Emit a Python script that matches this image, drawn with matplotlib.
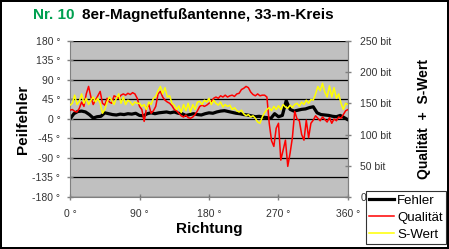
import matplotlib.pyplot as plt
import numpy as np

plt.rcParams['font.family'] = ['Liberation Sans', 'DejaVu Sans']

# Richtung in Grad
richtung_fehler = np.arange(0, 361, 5)
fehler = [0, 12, 17, 18, 16, 10, 2, 5, 6, 14, 12, 10, 9, 11, 10, 12, 11, 13, 8,
          7, 12, 14, 12, 14, 15, 16, 14, 16, 13, 12, 8, 10, 12, 10, 9, 12, 14,
          13, 16, 18, 19, 17, 15, 13, 12, 10, 9, 7, 5, 6, 4, 3, 1, 12, 5, 8, 42,
          22, 18, 20, 22, 23, 26, 28, 14, 10, 9, 8, 6, 5, 8, 3, -2]

richtung_q = np.arange(0, 361, 3)
qualitaet = [139, 140, 137, 136, 142, 152, 145, 165, 177, 160, 148, 155, 162, 169,
             150, 147, 158, 152, 150, 162, 160, 158, 163, 165, 163, 166, 164, 167,
             165, 158, 145, 140, 121, 142, 148, 134, 138, 145, 165, 169, 160, 155,
             152, 150, 146, 140, 138, 134, 130, 128, 131, 127, 126, 128, 132, 138,
             145, 147, 145, 147, 150, 153, 158, 160, 158, 162, 160, 163, 160, 162,
             163, 161, 165, 166, 172, 174, 177, 175, 168, 164, 162, 165, 162, 163,
             163, 160, 118, 90, 81, 110, 118, 59, 75, 91, 49, 70, 95, 137, 125, 122,
             100, 91, 123, 95, 118, 123, 130, 126, 122, 128, 124, 120, 127, 118,
             125, 122, 128, 126, 132, 138, 140]
s_wert = [147, 150, 163, 148, 153, 165, 150, 158, 148, 155, 160, 152, 158, 150,
          134, 140, 152, 160, 155, 148, 158, 165, 150, 160, 148, 155, 152, 147,
          152, 150, 150, 145, 148, 140, 152, 148, 158, 161, 170, 177, 165, 175,
          160, 162, 150, 147, 140, 146, 135, 148, 138, 150, 136, 148, 140, 152,
          153, 148, 155, 152, 158, 148, 155, 150, 147, 152, 144, 148, 145, 147,
          140, 143, 138, 136, 139, 133, 130, 132, 128, 130, 126, 120, 118, 128,
          135, 140, 143, 138, 145, 140, 146, 140, 148, 144, 142, 147, 143, 148,
          150, 145, 152, 148, 155, 150, 156, 155, 165, 177, 170, 182, 168, 160,
          178, 160, 175, 158, 165, 150, 140, 150, 148]

x_ticks = [0, 90, 180, 270, 360]
x_labels = ['0 °', '90 °', '180 °', '270 °', '360 °']
y_ticks = [-180, -135, -90, -45, 0, 45, 90, 135, 180]
y_labels = ['-180 °', '-135 °', '-90 °', '-45 °', '0 °', '45 °', '90 °', '135 °', '180 °']
bit_ticks = [0, 50, 100, 150, 200, 250]
bit_labels = ['0', '50 bit', '100 bit', '150 bit', '200 bit', '250 bit']

fig = plt.figure(figsize=(4.49, 2.49), dpi=100)
fig.patch.set_facecolor('white')
fig.patch.set_edgecolor('black')
fig.patch.set_linewidth(1.5)

ax = fig.add_axes([0.156, 0.209, 0.619, 0.627])
ax.set_facecolor('#C0C0C0')
ax.set_xlim(0, 360)
ax.set_ylim(-180, 180)
ax.set_xticks(x_ticks)
ax.set_xticklabels(x_labels)
ax.set_yticks(y_ticks)
ax.set_yticklabels(y_labels)
ax.grid(axis='y', color='black', linewidth=0.9)
ax.set_axisbelow(True)
ax.spines['top'].set_visible(False)
for s in ['left', 'bottom', 'right']:
    ax.spines[s].set_color('#808080')
ax.tick_params(axis='both', colors='#808080', labelcolor='#333333', labelsize=7.5,
               length=4, width=1, direction='inout')
ax.tick_params(axis='y', pad=5)
ax.tick_params(axis='x', pad=7)

l1, = ax.plot(richtung_fehler, fehler, color='black', linewidth=2.3, label='Fehler')
ax.set_ylabel('Peilfehler', fontsize=11, fontweight='bold', labelpad=2)
ax.set_xlabel('Richtung', fontsize=11, fontweight='bold', labelpad=2)

ax2 = ax.twinx()
ax2.set_ylim(0, 250)
ax2.set_yticks(bit_ticks)
ax2.set_yticklabels(bit_labels)
for s in ['top', 'left', 'bottom']:
    ax2.spines[s].set_visible(False)
ax2.spines['right'].set_color('#808080')
ax2.tick_params(axis='y', colors='#808080', labelcolor='#333333', labelsize=7.5,
                length=4, width=1, direction='inout', pad=7)
l2, = ax2.plot(richtung_q, qualitaet, color='#FF0000', linewidth=1.1, label='Qualität')
l3, = ax2.plot(richtung_q, s_wert, color='#FFFF00', linewidth=1.1, label='S-Wert')
ax2.set_ylabel('Qualität  +  S-Wert', fontsize=10, fontweight='bold', labelpad=18)

fig.text(0.073, 0.94, 'Nr. 10', color='#00A050', fontsize=11, fontweight='bold', va='center')
fig.text(0.183, 0.94, '8er-Magnetfußantenne, 33-m-Kreis', color='black', fontsize=11,
         fontweight='bold', va='center')

leg = fig.legend(handles=[l1, l2, l3], loc='lower right', bbox_to_anchor=(0.993, 0.02),
                 fontsize=9.5, frameon=True, fancybox=False, edgecolor='black',
                 handlelength=1.9, handletextpad=0.2, borderpad=0.25, labelspacing=0.35,
                 borderaxespad=0)
leg.get_frame().set_linewidth(0.8)

fig.savefig('out.png', dpi=100)
